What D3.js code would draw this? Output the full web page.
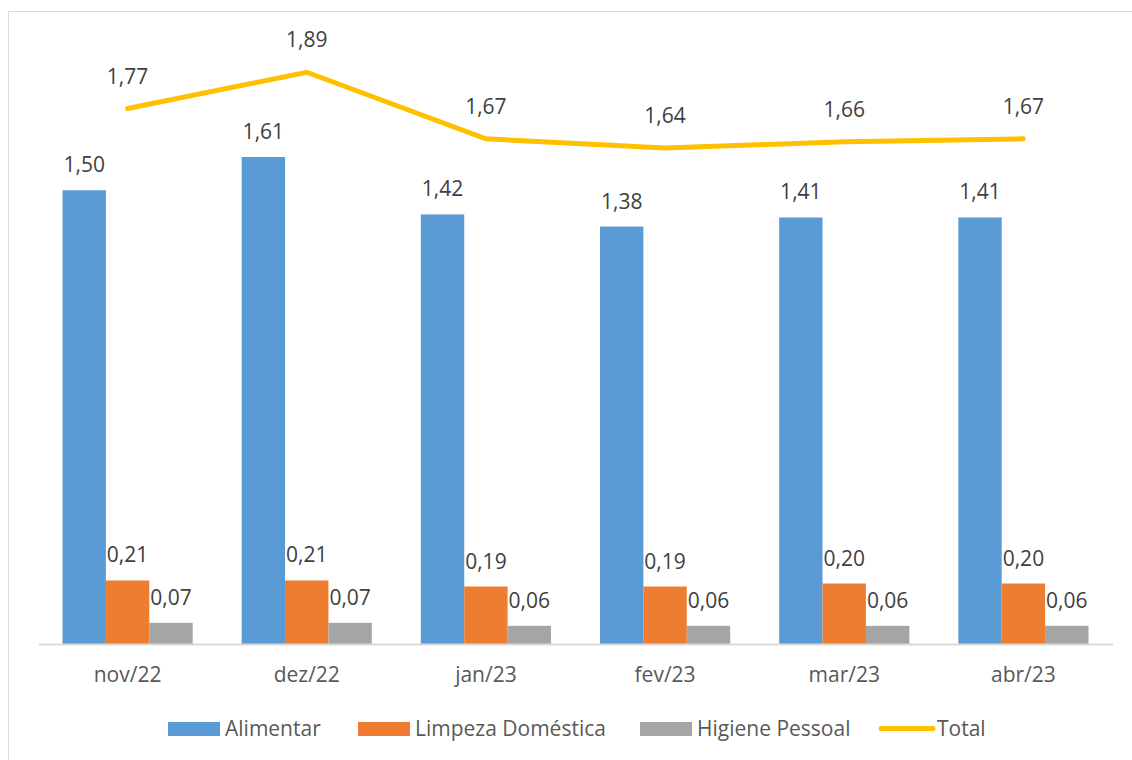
<!DOCTYPE html>
<html>
<head>
<meta charset="utf-8">
<script src="https://cdn.jsdelivr.net/npm/d3@7"></script>
<style>
  html, body { margin: 0; padding: 0; background: #ffffff; }
  svg { display: block; }
  text { font-family: "Open Sans", "Liberation Sans", sans-serif; }
</style>
</head>
<body>
<svg id="chart" width="1132" height="760"></svg>
<script>
// Monthly values per product group
const months = ["nov/22", "dez/22", "jan/23", "fev/23", "mar/23", "abr/23"];
const alimentar = [1.50, 1.61, 1.42, 1.38, 1.41, 1.41];
const limpeza = [0.21, 0.21, 0.19, 0.19, 0.20, 0.20];
const higiene = [0.07, 0.07, 0.06, 0.06, 0.06, 0.06];
const total = [1.77, 1.89, 1.67, 1.64, 1.66, 1.67];

const seriesNames = ["Alimentar", "Limpeza Doméstica", "Higiene Pessoal"];
const seriesValues = [alimentar, limpeza, higiene];
const seriesColors = ["#5b9bd5", "#ed7d31", "#a5a5a5"];
const totalColor = "#ffc000";

const svg = d3.select("#chart");

// Outer chart frame
svg.append("rect")
  .attr("x", 8.5).attr("y", 11.5)
  .attr("width", 1140).attr("height", 760)
  .attr("fill", "none").attr("stroke", "#d9d9d9").attr("stroke-width", 1);

const plot = { left: 38, right: 1113, top: 39, bottom: 644 };

const x = d3.scaleBand().domain(months).range([plot.left, plot.right]).paddingInner(0).paddingOuter(0);
const inner = d3.scaleBand().domain(d3.range(3)).range([24.5, x.bandwidth() - 24.5]).padding(0);
const y = d3.scaleLinear().domain([0, 2]).range([plot.bottom, plot.top]);

const fmt = v => d3.format(".2f")(v).replace(".", ",");

// Bars
const groups = svg.append("g").selectAll("g")
  .data(months)
  .join("g")
  .attr("transform", d => `translate(${x(d)},0)`);

groups.each(function(m, i) {
  const g = d3.select(this);
  seriesValues.forEach((vals, s) => {
    g.append("rect")
      .attr("x", inner(s))
      .attr("y", y(vals[i]))
      .attr("width", inner.bandwidth())
      .attr("height", y(0) - y(vals[i]))
      .attr("fill", seriesColors[s]);
    g.append("text")
      .attr("x", inner(s) + inner.bandwidth() / 2)
      .attr("y", y(vals[i]) - 18)
      .attr("text-anchor", "middle")
      .attr("font-size", 21)
      .attr("fill", "#404040")
      .text(fmt(vals[i]));
  });
});

// Category axis
const xAxis = svg.append("g")
  .attr("transform", `translate(0,${plot.bottom})`)
  .call(d3.axisBottom(x).tickSize(0).tickPadding(0));
xAxis.select(".domain").attr("stroke", "#d9d9d9").attr("stroke-width", 2);
xAxis.selectAll(".tick text")
  .attr("dy", null)
  .attr("y", 38)
  .attr("font-size", 21)
  .attr("font-family", "\"Open Sans\", sans-serif")
  .attr("fill", "#595959");

// Total line
const line = d3.line()
  .x((d, i) => x(months[i]) + x.bandwidth() / 2)
  .y(d => y(d));

svg.append("path")
  .datum(total)
  .attr("d", line)
  .attr("fill", "none")
  .attr("stroke", totalColor)
  .attr("stroke-width", 5)
  .attr("stroke-linecap", "round")
  .attr("stroke-linejoin", "miter");

svg.append("g").selectAll("text")
  .data(total)
  .join("text")
  .attr("x", (d, i) => x(months[i]) + x.bandwidth() / 2)
  .attr("y", d => y(d) - 25)
  .attr("text-anchor", "middle")
  .attr("font-size", 21)
  .attr("fill", "#404040")
  .text(d => fmt(d));

// Legend
const legend = svg.append("g");
const swatchX = [168, 358, 640];
seriesNames.forEach((name, s) => {
  legend.append("rect")
    .attr("x", swatchX[s]).attr("y", 722)
    .attr("width", 52).attr("height", 14)
    .attr("fill", seriesColors[s]);
  legend.append("text")
    .attr("x", swatchX[s] + 57).attr("y", 736)
    .attr("font-size", 21)
    .attr("fill", "#595959")
    .text(name);
});
legend.append("line")
  .attr("x1", 881).attr("x2", 933)
  .attr("y1", 728.5).attr("y2", 728.5)
  .attr("stroke", totalColor).attr("stroke-width", 5)
  .attr("stroke-linecap", "round");
legend.append("text")
  .attr("x", 937).attr("y", 736)
  .attr("font-size", 21)
  .attr("fill", "#595959")
  .text("Total");
</script>
</body>
</html>
